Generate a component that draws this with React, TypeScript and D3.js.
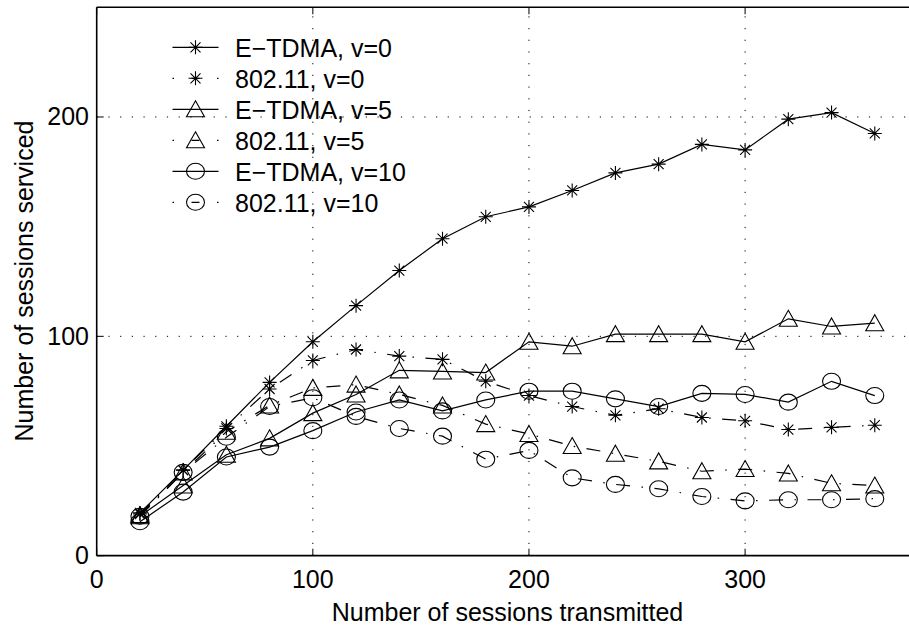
import React from 'react'
import { scaleLinear, line } from 'd3'

const W = 909
const H = 626

// sessions transmitted
const xs = [20, 40, 60, 80, 100, 120, 140, 160, 180, 200, 220, 240, 260, 280, 300, 320, 340, 360]

// sessions serviced
const etdma0 = [19.5, 39, 59, 79, 97.5, 114, 130, 144.5, 154.5, 159, 166.5, 174.5, 178.5, 187.5, 185, 199, 202, 192.5]
const wifi0 = [19, 39, 58, 76, 89, 94, 91, 89.5, 79.5, 73, 68, 64, 67, 63, 61.5, 57.5, 58.5, 59.5]
const etdma5 = [18, 32, 46, 53.5, 65, 73.5, 84.5, 84, 83.5, 97.5, 95.5, 101, 101, 101, 97.5, 108, 104.5, 106]
const wifi5 = [18.5, 38, 56.5, 68.5, 76.5, 78, 73.5, 68.5, 60, 55.5, 50, 46.5, 43, 38.5, 39.5, 37.5, 33, 32]
const etdma10 = [15.5, 29, 45, 49.5, 57, 65.5, 71, 66, 71, 75, 75, 71.5, 68, 74, 73.5, 70, 79.5, 73]
const wifi10 = [18, 38, 54, 68, 72, 63.5, 58, 54.5, 44, 48, 35.5, 32.5, 30.5, 27, 25, 25.5, 25.5, 26]

const xTicks = [0, 100, 200, 300]
const yTicks = [0, 100, 200]

const series = [
  { name: 'E\u2212TDMA, v=0', values: etdma0, marker: 'star', dashed: false },
  { name: '802.11, v=0', values: wifi0, marker: 'star', dashed: true },
  { name: 'E\u2212TDMA, v=5', values: etdma5, marker: 'tri', dashed: false },
  { name: '802.11, v=5', values: wifi5, marker: 'tri', dashed: true },
  { name: 'E\u2212TDMA, v=10', values: etdma10, marker: 'circ', dashed: false },
  { name: '802.11, v=10', values: wifi10, marker: 'circ', dashed: true },
]

const x = scaleLinear().domain([0, 380]).range([96.7, 918])
const y = scaleLinear().domain([0, 250]).range([555.7, 7.3])

const font = '"Liberation Sans", Arial, Helvetica, sans-serif'
const dashDot = '14,11.5,1.5,11.5'

function Marker({ kind, cx, cy }: { kind: string; cx: number; cy: number }) {
  if (kind === 'star') {
    return (
      <path
        transform={`translate(${cx},${cy})`}
        d="M-7,0H7M0,-7V7M-5,-5L5,5M-5,5L5,-5"
        stroke="#000" strokeWidth={1.1} fill="none"
      />
    )
  }
  if (kind === 'tri') {
    return (
      <path
        transform={`translate(${cx},${cy})`}
        d="M0,-8.5L9,7.5L-9,7.5Z"
        stroke="#000" strokeWidth={1.1} fill="none"
      />
    )
  }
  return <ellipse cx={cx} cy={cy} rx={9} ry={8} stroke="#000" strokeWidth={1.1} fill="none" />
}

export default function App() {
  const path = line<number>()
    .x((_, i) => x(xs[i]))
    .y(d => y(d))

  const [x0, x1] = x.range()
  const [y0, y1] = y.range()

  return (
    <svg width={W} height={H} style={{ position: 'absolute', left: 0, top: 0, background: '#fff' }}>
      <rect width={W} height={H} fill="#fff" />

      {/* grid */}
      {xTicks.filter(t => t > 0).map(t => (
        <line key={'gx' + t} x1={x(t)} x2={x(t)} y1={y0} y2={y1}
          stroke="#000" strokeWidth={1} strokeDasharray="1.2,10.5" />
      ))}
      {yTicks.filter(t => t > 0).map(t => (
        <line key={'gy' + t} x1={x0} x2={x1} y1={y(t)} y2={y(t)}
          stroke="#000" strokeWidth={1} strokeDasharray="1.2,10.5" />
      ))}

      {/* series */}
      {series.map(s => (
        <g key={s.name}>
          <path d={path(s.values) || ''} fill="none" stroke="#000" strokeWidth={1.2}
            strokeDasharray={s.dashed ? dashDot : undefined} />
          {s.values.map((v, i) => (
            <Marker key={i} kind={s.marker} cx={x(xs[i])} cy={y(v)} />
          ))}
        </g>
      ))}

      {/* axes box */}
      <line x1={x0} x2={x0} y1={y0} y2={y1} stroke="#000" strokeWidth={1.6} />
      <line x1={x0} x2={x1} y1={y0} y2={y0} stroke="#000" strokeWidth={1.8} />
      <line x1={x0} x2={x1} y1={y1} y2={y1} stroke="#000" strokeWidth={1.6} />

      {/* ticks */}
      {xTicks.map(t => (
        <g key={'tx' + t}>
          <line x1={x(t)} x2={x(t)} y1={y0} y2={y0 - 7} stroke="#000" strokeWidth={1} />
          <line x1={x(t)} x2={x(t)} y1={y1} y2={y1 + 7} stroke="#000" strokeWidth={1} />
          <text x={x(t)} y={588} textAnchor="middle" fontFamily={font} fontSize={25}>{t}</text>
        </g>
      ))}
      {yTicks.map(t => (
        <g key={'ty' + t}>
          <line x1={x0} x2={x0 + 7} y1={y(t)} y2={y(t)} stroke="#000" strokeWidth={1} />
          <text x={89} y={y(t) + 8.5} textAnchor="end" fontFamily={font} fontSize={25}>{t}</text>
        </g>
      ))}

      {/* axis labels */}
      <text x={507.5} y={620.5} textAnchor="middle" fontFamily={font} fontSize={25}>
        Number of sessions transmitted
      </text>
      <text transform="translate(32.5,281) rotate(-90)" textAnchor="middle" fontFamily={font} fontSize={25}>
        Number of sessions serviced
      </text>

      {/* legend */}
      {series.map((s, i) => {
        const ry = 47.3 + i * 31
        return (
          <g key={'lg' + i}>
            <line x1={172.5} x2={218.5} y1={ry} y2={ry} stroke="#000" strokeWidth={1.2}
              strokeDasharray={s.dashed ? '1.5,17.5,8,17.5,1.5' : undefined} />
            <Marker kind={s.marker} cx={195.5} cy={ry} />
            <text x={235} y={ry + 10} fontFamily={font} fontSize={25}>{s.name}</text>
          </g>
        )
      })}
    </svg>
  )
}
